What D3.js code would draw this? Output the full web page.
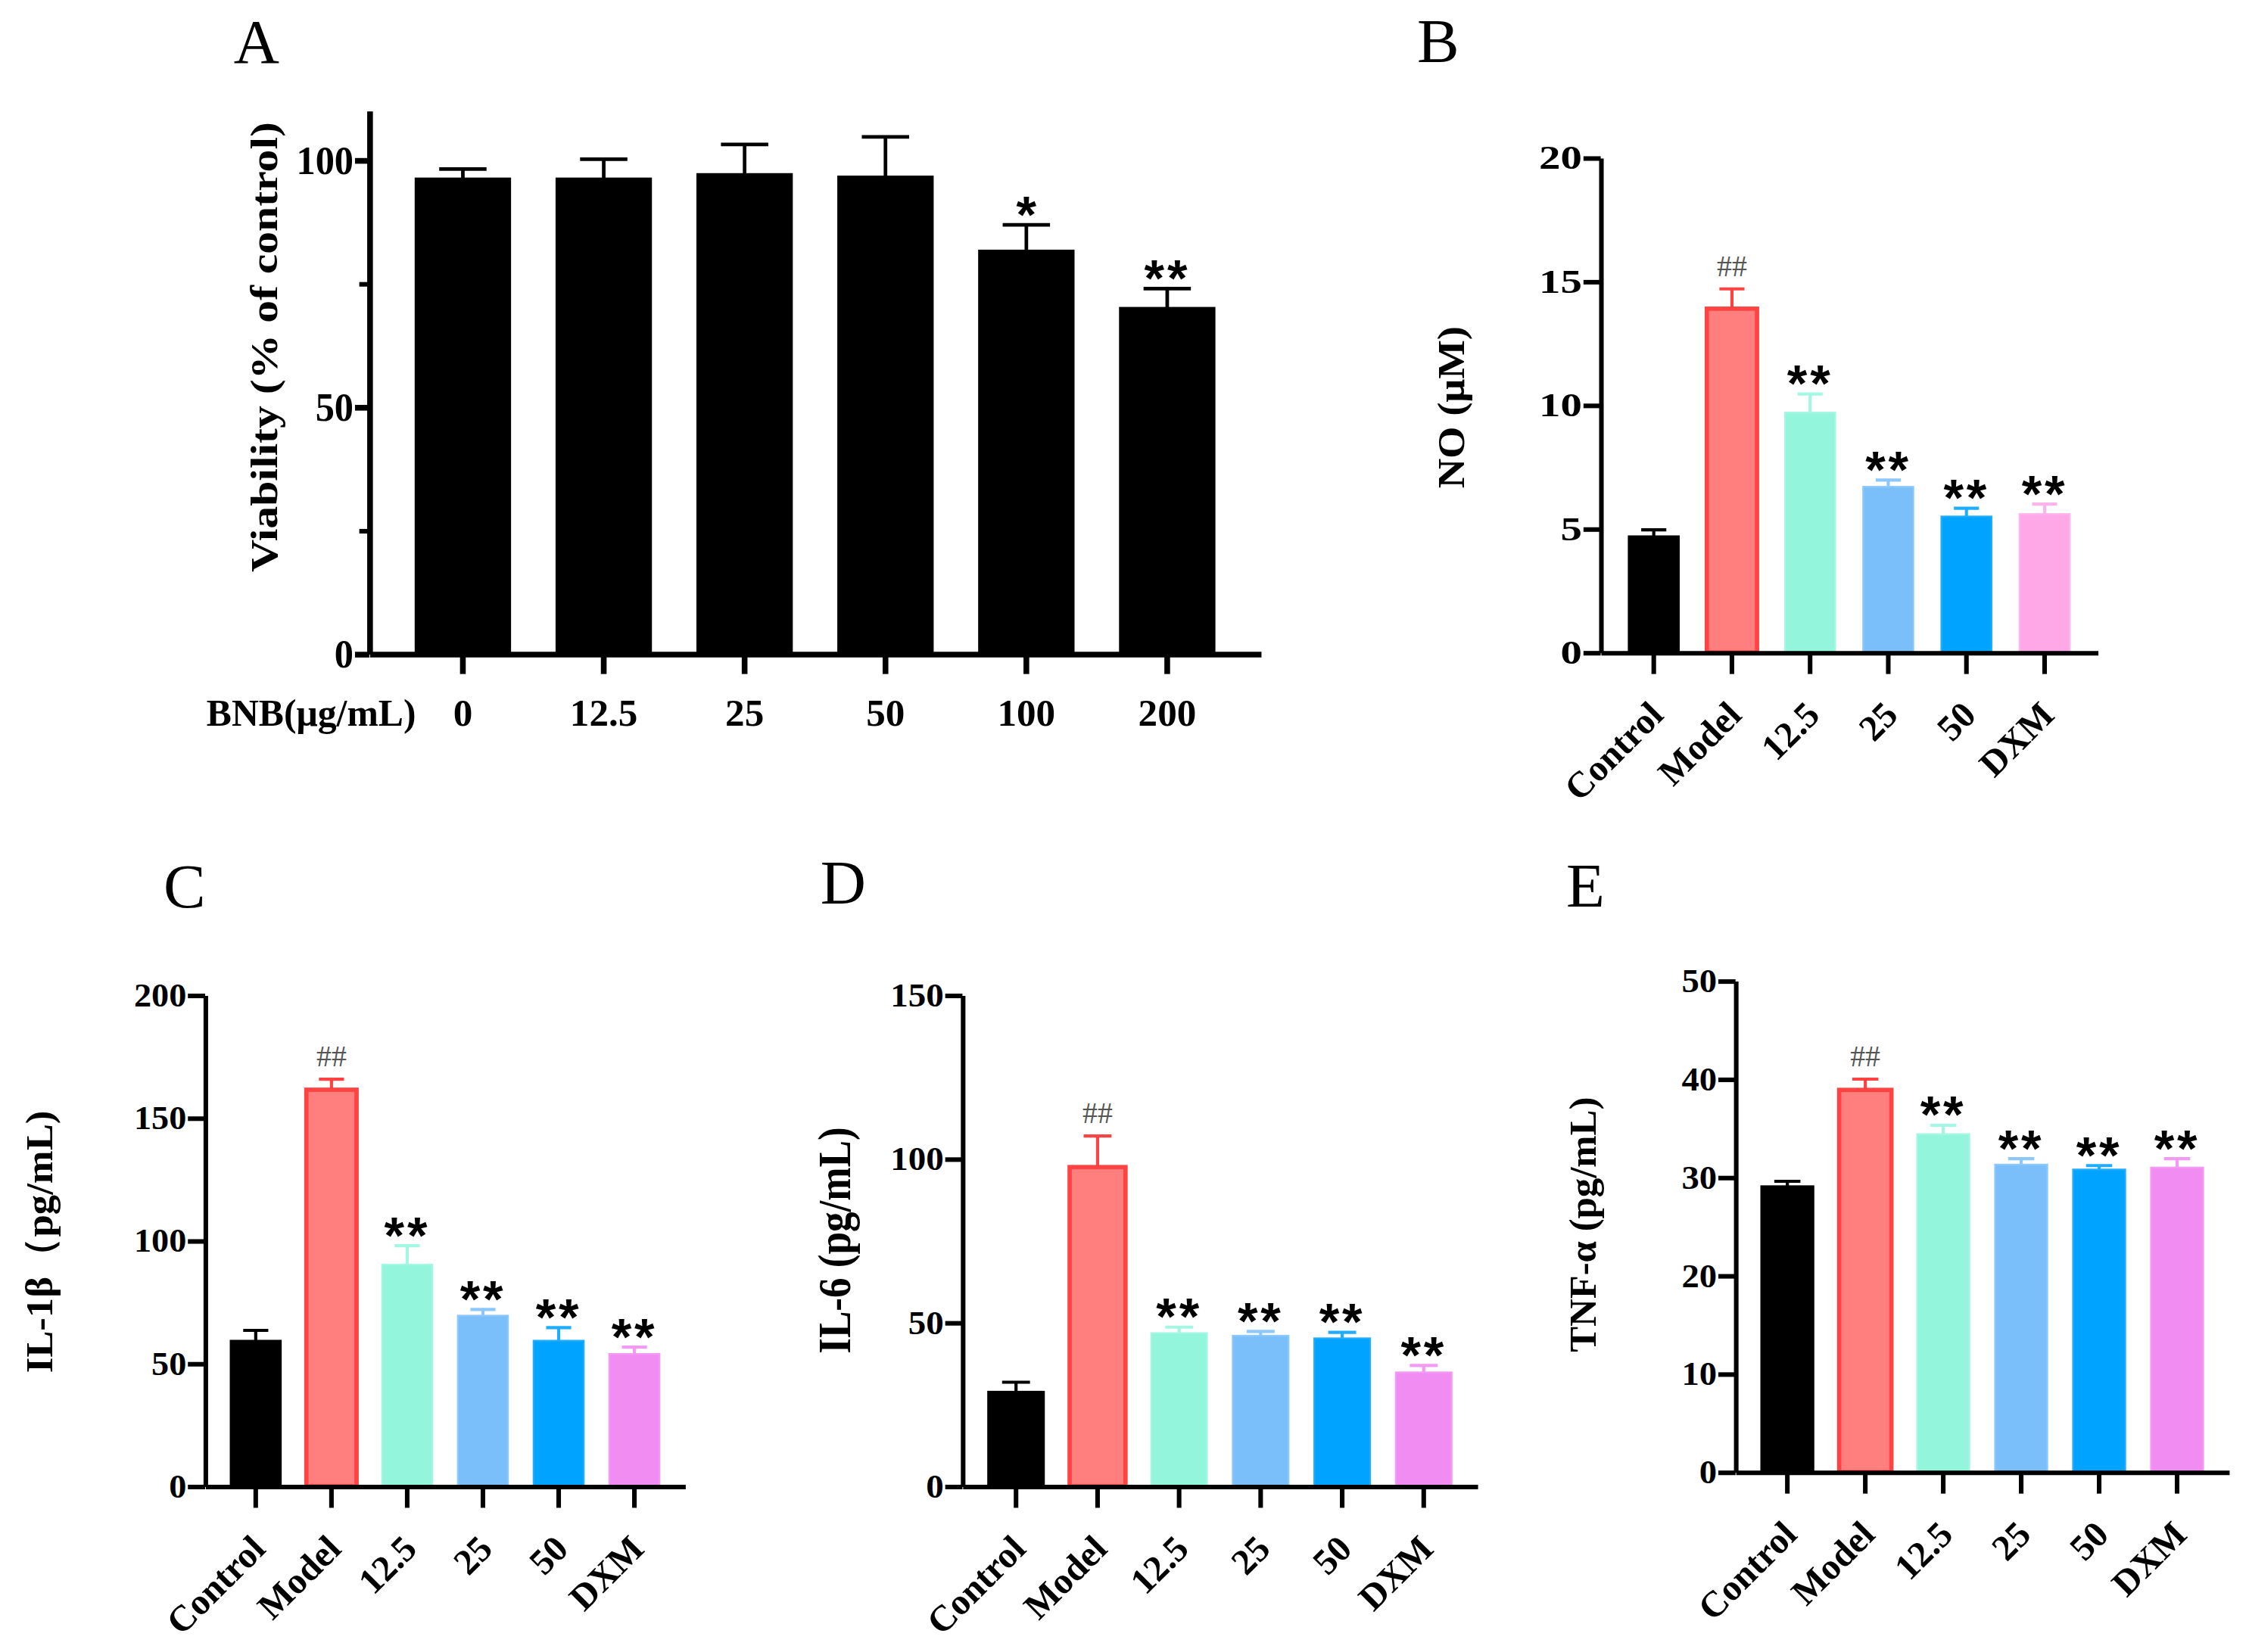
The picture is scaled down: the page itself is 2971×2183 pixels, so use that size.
<!DOCTYPE html>
<html>
<head>
<meta charset="utf-8">
<script src="https://cdn.jsdelivr.net/npm/d3@7"></script>
<style>
body { margin: 0; background: #fff; }
text { font-family: "Liberation Serif", "Times New Roman", serif; }
</style>
</head>
<body>
<div id="figure"></div>
<script>
// panel A - cell viability
var doses = ["0", "12.5", "25", "50", "100", "200"];
var viability = [96.3, 96.3, 97.2, 96.7, 81.7, 70.1];
var viabilitySD = [1.9, 3.9, 6.0, 8.0, 5.2, 3.9];
var viabilitySig = ["", "", "", "", "*", "**"];
var viabilityTicks = [0, 50, 100];
var viabilityMinor = [25, 75];

// panels B-E share the groups
var groups = ["Control", "Model", "12.5", "25", "50", "DXM"];
var groupSig = ["", "##", "**", "**", "**", "**"];

var noValues = [4.7, 13.9, 9.7, 6.7, 5.5, 5.6];
var noSD = [0.26, 0.8, 0.75, 0.27, 0.33, 0.4];
var noTicks = [0, 5, 10, 15, 20];

var il1bValues = [59.3, 161.5, 90.3, 69.5, 59.3, 53.9];
var il1bSD = [4.2, 4.3, 7.7, 2.5, 5.3, 2.8];
var il1bTicks = [0, 50, 100, 150, 200];

var il6Values = [28.9, 97.5, 46.8, 46.0, 45.2, 34.8];
var il6SD = [2.9, 9.5, 1.8, 1.3, 1.8, 2.1];
var il6Ticks = [0, 50, 100, 150];

var tnfValues = [29.1, 38.9, 34.4, 31.3, 30.8, 31.0];
var tnfSD = [0.5, 1.1, 0.9, 0.6, 0.4, 0.9];
var tnfTicks = [0, 10, 20, 30, 40, 50];

var fills = ["#000000", "#ff7f7f", "#93f5dc", "#7bbffa", "#00a3ff", "#f08cf2"];
var strokes = ["#000000", "#ff4242", "#a4f7e2", "#8cc8fb", "#20adff", "#f39af5"];
var fillsNO = ["#000000", "#ff7f7f", "#93f5dc", "#7bbffa", "#00a3ff", "#ffa8e8"];
var strokesNO = ["#000000", "#ff4242", "#a4f7e2", "#8cc8fb", "#20adff", "#ffb5ec"];

var svg = d3.select("#figure")
  .append("svg")
  .attr("width", 2971)
  .attr("height", 2183)
  .attr("viewBox", "0 0 1568 1152");

svg.append("rect").attr("width", 1568).attr("height", 1152).attr("fill", "#fff");

function drawPanel(p) {
  var g = svg.append("g");

  var x = d3.scaleBand().domain(p.cats).range([p.x0, p.x1])
    .paddingInner(p.pad).paddingOuter(p.pad);
  var y = d3.scaleLinear().domain([0, p.ymax]).range([p.y0, p.y1]);
  var cx = function(i) { return x(p.cats[i]) + x.bandwidth() / 2; };

  // bars
  g.selectAll("rect.bar")
    .data(p.values)
    .enter().append("rect")
    .attr("class", "bar")
    .attr("x", function(d, i) { return x(p.cats[i]); })
    .attr("y", function(d) { return y(d); })
    .attr("width", x.bandwidth())
    .attr("height", function(d) { return y(0) - y(d); })
    .attr("fill", function(d, i) { return p.fills[i]; })
    .attr("stroke", function(d, i) { return p.strokes[i]; })
    .attr("stroke-width", function(d, i) { return (p.colored && i == 1) ? 3 : 1.2; });

  // error bars (upper half only)
  var capW = x.bandwidth() * 0.5;
  var eb = g.selectAll("g.err")
    .data(p.values)
    .enter().append("g")
    .attr("class", "err")
    .attr("stroke", function(d, i) { return p.strokes[i]; })
    .attr("stroke-width", p.errW);
  eb.append("line")
    .attr("x1", function(d, i) { return cx(i); })
    .attr("x2", function(d, i) { return cx(i); })
    .attr("y1", function(d) { return y(d); })
    .attr("y2", function(d, i) { return y(d + p.sd[i]); });
  eb.append("line")
    .attr("x1", function(d, i) { return cx(i) - capW / 2; })
    .attr("x2", function(d, i) { return cx(i) + capW / 2; })
    .attr("y1", function(d, i) { return y(d + p.sd[i]); })
    .attr("y2", function(d, i) { return y(d + p.sd[i]); });

  // significance marks
  g.selectAll("text.sig")
    .data(p.sig)
    .enter().append("text")
    .attr("class", "sig")
    .attr("x", function(d, i) { return cx(i); })
    .attr("y", function(d, i) {
      var top = y(p.values[i] + p.sd[i]);
      return d == "##" ? top - 9 : top + 5;
    })
    .attr("text-anchor", "middle")
    .attr("font-size", function(d) { return d == "##" ? 21 : 36; })
    .attr("font-weight", function(d) { return d == "##" ? "normal" : "bold"; })
    .attr("letter-spacing", function(d) { return d == "**" ? 2 : 0; })
    .style("font-family", function(d) { return d == "##" ? "Liberation Serif, serif" : "Liberation Sans, Arial, sans-serif"; })
    .attr("fill", function(d) { return d == "##" ? "#555" : "#000"; })
    .text(function(d) { return d; });

  // y axis
  var gy = g.append("g")
    .attr("transform", "translate(" + p.x0 + ",0)")
    .call(d3.axisLeft(y).tickValues(p.ticks).tickSize(p.ytick).tickSizeOuter(0).tickPadding(1));
  gy.select(".domain").attr("stroke-width", p.axisW);
  gy.selectAll(".tick line").attr("stroke-width", p.axisW);
  gy.selectAll(".tick text")
    .attr("font-size", p.tickSize)
    .attr("font-weight", "bold")
    .attr("fill", "#000")
    .attr("textLength", function(d) { return String(d).length * p.dw; })
    .attr("lengthAdjust", "spacingAndGlyphs");

  if (p.minor) {
    g.append("g")
      .attr("transform", "translate(" + p.x0 + ",0)")
      .call(d3.axisLeft(y).tickValues(p.minor).tickSize(p.ytick * 0.7).tickFormat(""))
      .call(function(s) { s.select(".domain").remove(); })
      .selectAll(".tick line").attr("stroke-width", p.axisW * 0.8);
  }

  // x axis
  var gx = g.append("g")
    .attr("transform", "translate(0," + p.y0 + ")")
    .call(d3.axisBottom(x).tickSize(p.xtick).tickSizeOuter(0));
  gx.select(".domain").attr("stroke-width", p.axisW);
  gx.selectAll(".tick line").attr("stroke-width", p.axisW);
  var xt = gx.selectAll(".tick text")
    .attr("font-size", p.xlabSize)
    .attr("font-weight", "bold")
    .attr("fill", "#000");
  if (p.rotate) {
    xt.attr("x", 0).attr("y", 0).attr("dy", 0)
      .attr("text-anchor", "end")
      .attr("transform", "translate(8,45) rotate(-45)");
  } else {
    xt.attr("y", p.xlabY).attr("dy", 0);
  }

  // axis title
  g.append("text")
    .attr("transform", "translate(" + p.ylx + "," + p.yly + ") rotate(-90)")
    .attr("text-anchor", "middle")
    .attr("dominant-baseline", "central")
    .attr("font-weight", "bold")
    .attr("font-size", p.ylSize)
    .attr("textLength", p.ylLen)
    .attr("lengthAdjust", "spacingAndGlyphs")
    .text(p.ylabel);

  if (p.xtitle) {
    g.append("text")
      .attr("x", p.xtitleX)
      .attr("y", p.y0 + p.xlabY)
      .attr("text-anchor", "middle")
      .attr("font-weight", "bold")
      .attr("font-size", p.xlabSize)
      .attr("textLength", p.xtitleLen)
      .attr("lengthAdjust", "spacingAndGlyphs")
      .text(p.xtitle);
  }

  // panel letter
  g.append("text")
    .attr("x", p.lx)
    .attr("y", p.ly)
    .attr("font-size", 44)
    .text(p.letter);
}

drawPanel({
  letter: "A", lx: 163, ly: 44,
  cats: doses, values: viability, sd: viabilitySD, sig: viabilitySig,
  ticks: viabilityTicks, minor: viabilityMinor, ymax: 110,
  x0: 257.5, x1: 879, y0: 456, y1: 77.2, pad: 0.328,
  fills: doses.map(function() { return "#000"; }),
  strokes: doses.map(function() { return "#000"; }),
  colored: false, errW: 2.5, axisW: 4, ytick: 10, xtick: 14,
  tickSize: 28, dw: 13.3, xlabSize: 27, xlabY: 50, rotate: false,
  xtitle: "BNB(μg/mL)", xtitleX: 217, xtitleLen: 146,
  ylabel: "Viability (% of control)", ylx: 184, yly: 242, ylSize: 27, ylLen: 314
});

drawPanel({
  letter: "B", lx: 988, ly: 43,
  cats: groups, values: noValues, sd: noSD, sig: groupSig,
  ticks: noTicks, ymax: 20,
  x0: 1116, x1: 1462.5, y0: 455, y1: 110, pad: 0.358,
  fills: fillsNO, strokes: strokesNO, colored: true,
  errW: 2.2, axisW: 3.2, ytick: 12, xtick: 15,
  tickSize: 23, dw: 15, xlabSize: 25.5, rotate: true,
  ylabel: "NO (μM)", ylx: 1011.5, yly: 284, ylSize: 27, ylLen: 113
});

drawPanel({
  letter: "C", lx: 114, ly: 633,
  cats: groups, values: il1bValues, sd: il1bSD, sig: groupSig,
  ticks: il1bTicks, ymax: 200,
  x0: 143, x1: 477.6, y0: 1036.5, y1: 694, pad: 0.337,
  fills: fills, strokes: strokes, colored: true,
  errW: 2.2, axisW: 3.2, ytick: 12, xtick: 15,
  tickSize: 23, dw: 12.2, xlabSize: 25.5, rotate: true,
  ylabel: "IL-1β（pg/mL)", ylx: 27, yly: 866, ylSize: 27, ylLen: 183
});

drawPanel({
  letter: "D", lx: 572, ly: 630,
  cats: groups, values: il6Values, sd: il6SD, sig: groupSig,
  ticks: il6Ticks, ymax: 150,
  x0: 671, x1: 1030, y0: 1036.5, y1: 694, pad: 0.315,
  fills: fills, strokes: strokes, colored: true,
  errW: 2.2, axisW: 3.2, ytick: 12, xtick: 15,
  tickSize: 23, dw: 12.4, xlabSize: 25.5, rotate: true,
  ylabel: "IL-6 (pg/mL)", ylx: 582, yly: 865, ylSize: 32, ylLen: 158
});

drawPanel({
  letter: "E", lx: 1092, ly: 632,
  cats: groups, values: tnfValues, sd: tnfSD, sig: groupSig,
  ticks: tnfTicks, ymax: 50,
  x0: 1210, x1: 1554, y0: 1026.6, y1: 684, pad: 0.33,
  fills: fills, strokes: strokes, colored: true,
  errW: 2.2, axisW: 3.2, ytick: 12, xtick: 15,
  tickSize: 23, dw: 12.3, xlabSize: 25.5, rotate: true,
  ylabel: "TNF-α (pg/mL)", ylx: 1103.5, yly: 854, ylSize: 27, ylLen: 178
});
</script>
</body>
</html>
